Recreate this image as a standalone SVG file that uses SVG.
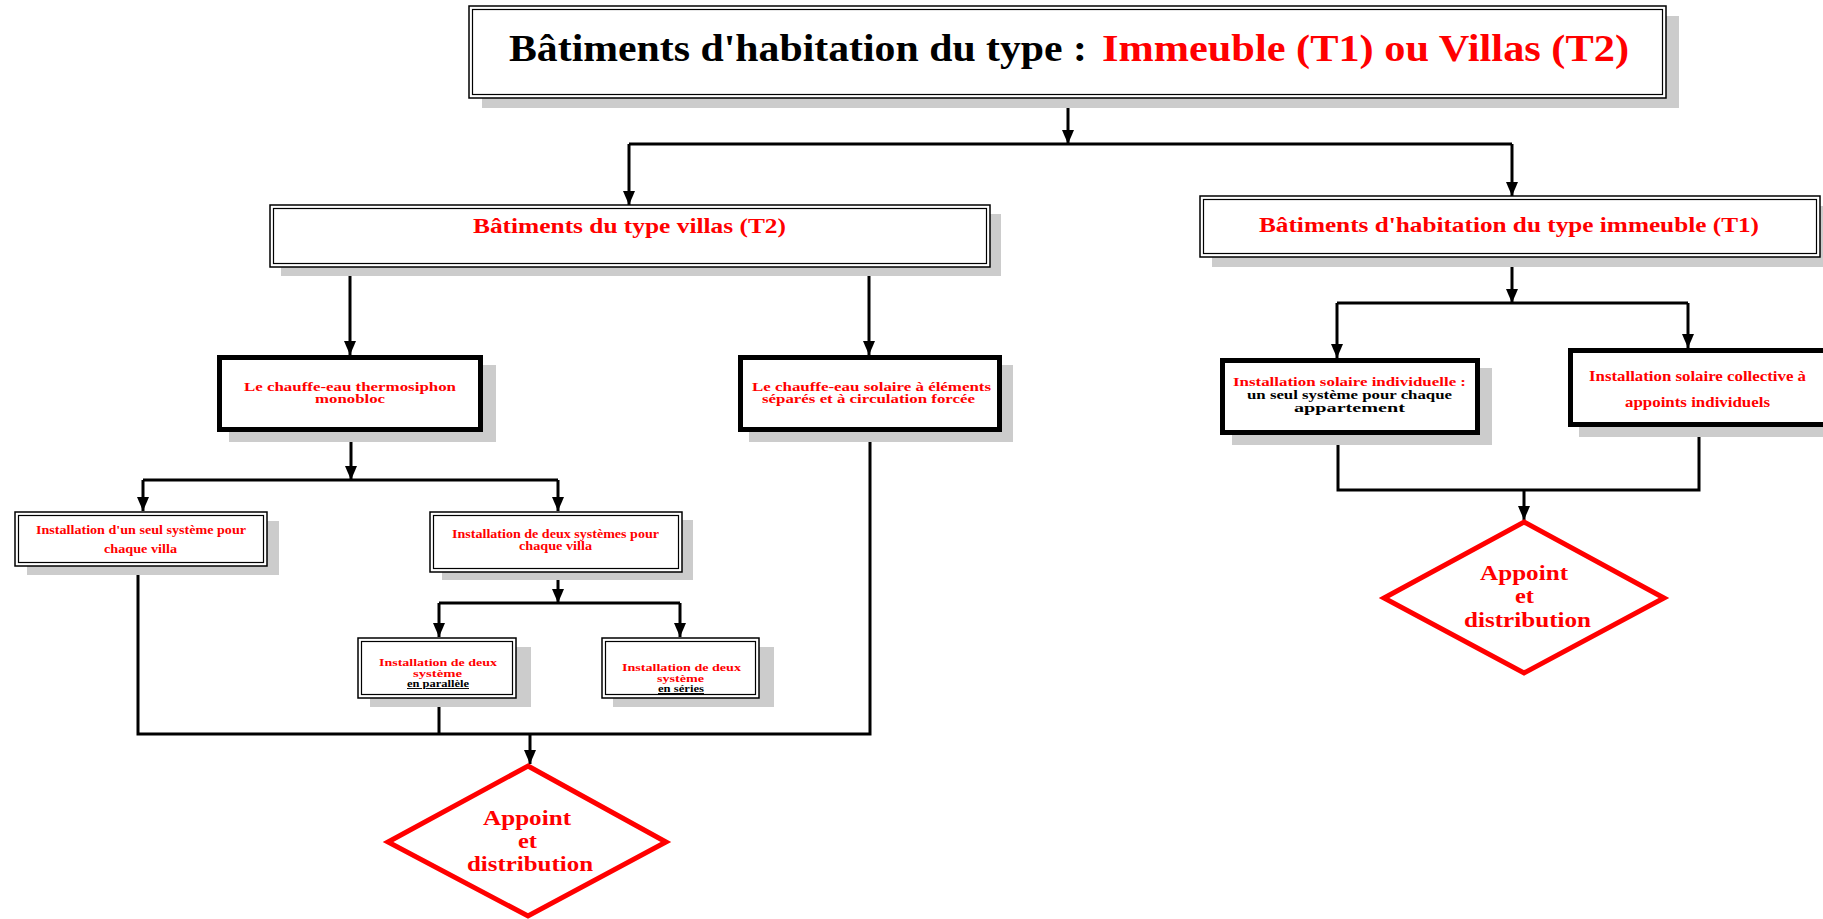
<svg xmlns="http://www.w3.org/2000/svg" width="1823" height="919" viewBox="0 0 1823 919">
<style>
.bg{fill:#ffffff}
.sh{fill:#cccccc}
.dbo{fill:#ffffff;stroke:#000;stroke-width:1.5}
.dbi{fill:none;stroke:#000;stroke-width:1.2}
.thk{fill:#ffffff;stroke:#000;stroke-width:5}
.dia{fill:#ffffff;stroke:#ff0000;stroke-width:5;stroke-linejoin:miter}
.t{font-family:"Liberation Serif","Times New Roman",serif;font-weight:bold}
.r{fill:#ff0000}
.k{fill:#000000}
.c{fill:none;stroke:#000;stroke-width:3}
.ca{fill:none;stroke:#000;stroke-width:3;marker-end:url(#ah)}
</style>
<defs>
<marker id="ah" viewBox="0 0 14 12" markerUnits="userSpaceOnUse" markerWidth="14" markerHeight="12" refX="14" refY="6" orient="auto">
<path d="M0,0 L14,6 L0,12 z" fill="#000"/>
</marker>
</defs>
<rect class="bg" x="0" y="0" width="1823" height="919"/>

<g id="connectors">
<path class="ca" d="M1068,98 V144"/>
<path class="c" d="M629,144 H1512"/>
<path class="ca" d="M629,144 V205"/>
<path class="ca" d="M1512,144 V196"/>
<path class="ca" d="M350,267 V355"/>
<path class="ca" d="M869,267 V355"/>
<path class="ca" d="M351,432 V480"/>
<path class="c" d="M143,480 H558"/>
<path class="ca" d="M143,480 V511"/>
<path class="ca" d="M558,480 V511"/>
<path class="ca" d="M558,572 V603"/>
<path class="c" d="M439,603 H680"/>
<path class="ca" d="M439,603 V637"/>
<path class="ca" d="M680,603 V637"/>
<path class="c" d="M138,566 V734 H870 V432"/>
<path class="c" d="M439,698 V734"/>
<path class="ca" d="M530,734 V764"/>
<path class="ca" d="M1512,257 V303"/>
<path class="c" d="M1337,303 H1688"/>
<path class="ca" d="M1337,303 V358"/>
<path class="ca" d="M1688,303 V348"/>
<path class="c" d="M1338,435 V490 H1699 V427"/>
<path class="ca" d="M1524,490 V520"/>
</g>

<g id="title">
<rect class="sh" x="482" y="16" width="1197" height="92"/>
<rect class="dbo" x="469" y="6" width="1197" height="92"/>
<rect class="dbi" x="472.5" y="9.5" width="1190" height="85"/>
<text class="t k" x="509" y="61" font-size="37" textLength="578" lengthAdjust="spacingAndGlyphs">Bâtiments d'habitation du type :</text>
<text class="t r" x="1102" y="61" font-size="37" textLength="527" lengthAdjust="spacingAndGlyphs">Immeuble (T1) ou Villas (T2)</text>
</g>

<g id="villas">
<rect class="sh" x="281" y="214" width="720" height="62"/>
<rect class="dbo" x="270" y="205" width="720" height="62"/>
<rect class="dbi" x="273.5" y="208.5" width="713" height="55"/>
<text class="t r" x="473" y="233" font-size="22" textLength="313" lengthAdjust="spacingAndGlyphs">Bâtiments du type villas (T2)</text>
</g>

<g id="immeuble">
<rect class="sh" x="1212" y="206" width="620" height="61"/>
<rect class="dbo" x="1200" y="196" width="620" height="61"/>
<rect class="dbi" x="1203.5" y="199.5" width="613" height="54"/>
<text class="t r" x="1259" y="232" font-size="22" textLength="500" lengthAdjust="spacingAndGlyphs">Bâtiments d'habitation du type immeuble (T1)</text>
</g>

<g id="thermosiphon">
<rect class="sh" x="229" y="365" width="267" height="77"/>
<rect class="thk" x="219.5" y="357.5" width="261" height="72"/>
<text class="t r" x="244" y="391" font-size="13" textLength="212" lengthAdjust="spacingAndGlyphs">Le chauffe-eau thermosiphon</text>
<text class="t r" x="315" y="403" font-size="13" textLength="70" lengthAdjust="spacingAndGlyphs">monobloc</text>
</g>

<g id="solaire">
<rect class="sh" x="749" y="365" width="264" height="77"/>
<rect class="thk" x="740.5" y="357.5" width="259" height="72"/>
<text class="t r" x="752" y="391" font-size="13" textLength="239" lengthAdjust="spacingAndGlyphs">Le chauffe-eau solaire à éléments</text>
<text class="t r" x="762" y="403" font-size="13" textLength="213" lengthAdjust="spacingAndGlyphs">séparés et à circulation forcée</text>
</g>

<g id="seul">
<rect class="sh" x="27" y="521" width="252" height="54"/>
<rect class="dbo" x="15" y="512" width="252" height="54"/>
<rect class="dbi" x="18.5" y="515.5" width="245" height="47"/>
<text class="t r" x="36" y="534" font-size="12.5" textLength="210" lengthAdjust="spacingAndGlyphs">Installation d'un seul système pour</text>
<text class="t r" x="104" y="553" font-size="12.5" textLength="73" lengthAdjust="spacingAndGlyphs">chaque villa</text>
</g>

<g id="deux">
<rect class="sh" x="442" y="520" width="251" height="60"/>
<rect class="dbo" x="430" y="512" width="252" height="60"/>
<rect class="dbi" x="433.5" y="515.5" width="245" height="53"/>
<text class="t r" x="452" y="538" font-size="11.5" textLength="207" lengthAdjust="spacingAndGlyphs">Installation de deux systèmes pour</text>
<text class="t r" x="519" y="550" font-size="11.5" textLength="73" lengthAdjust="spacingAndGlyphs">chaque villa</text>
</g>

<g id="parallele">
<rect class="sh" x="370" y="647" width="161" height="60"/>
<rect class="dbo" x="358" y="638" width="158" height="60"/>
<rect class="dbi" x="361.5" y="641.5" width="151" height="53"/>
<text class="t r" x="379" y="666" font-size="11" textLength="118" lengthAdjust="spacingAndGlyphs">Installation de deux</text>
<text class="t r" x="413" y="676.5" font-size="11" textLength="49" lengthAdjust="spacingAndGlyphs">système</text>
<text class="t k" x="407" y="687" font-size="9.5" textLength="62" lengthAdjust="spacingAndGlyphs" text-decoration="underline">en parallèle</text>
</g>

<g id="series">
<rect class="sh" x="613" y="647" width="161" height="60"/>
<rect class="dbo" x="602" y="638" width="157" height="60"/>
<rect class="dbi" x="605.5" y="641.5" width="150" height="53"/>
<text class="t r" x="622" y="671" font-size="11" textLength="119" lengthAdjust="spacingAndGlyphs">Installation de deux</text>
<text class="t r" x="657" y="681.5" font-size="11" textLength="47" lengthAdjust="spacingAndGlyphs">système</text>
<text class="t k" x="658" y="692" font-size="9.5" textLength="46" lengthAdjust="spacingAndGlyphs" text-decoration="underline">en séries</text>
</g>

<g id="appoint1">
<polygon class="dia" points="528,766 666,842 528,916 388,842"/>
<text class="t r" x="483" y="825" font-size="21" textLength="88" lengthAdjust="spacingAndGlyphs">Appoint</text>
<text class="t r" x="518" y="848" font-size="21" textLength="19" lengthAdjust="spacingAndGlyphs">et</text>
<text class="t r" x="467" y="871" font-size="21" textLength="126" lengthAdjust="spacingAndGlyphs">distribution</text>
</g>

<g id="individuelle">
<rect class="sh" x="1232" y="368" width="260" height="77"/>
<rect class="thk" x="1222.5" y="360.5" width="255" height="72"/>
<text class="t r" x="1233" y="386" font-size="13" textLength="233" lengthAdjust="spacingAndGlyphs">Installation solaire individuelle :</text>
<text class="t k" x="1247" y="399" font-size="13" textLength="205" lengthAdjust="spacingAndGlyphs">un seul système pour chaque</text>
<text class="t k" x="1294" y="411.5" font-size="13" textLength="111" lengthAdjust="spacingAndGlyphs">appartement</text>
</g>

<g id="collective">
<rect class="sh" x="1579" y="358" width="260" height="79"/>
<rect class="thk" x="1570.5" y="350.5" width="262" height="74"/>
<text class="t r" x="1589" y="381" font-size="14" textLength="217" lengthAdjust="spacingAndGlyphs">Installation solaire collective à</text>
<text class="t r" x="1625" y="407" font-size="14" textLength="145" lengthAdjust="spacingAndGlyphs">appoints individuels</text>
</g>

<g id="appoint2">
<polygon class="dia" points="1524,522 1664,598 1524,673 1384,598"/>
<text class="t r" x="1480" y="580" font-size="21" textLength="88" lengthAdjust="spacingAndGlyphs">Appoint</text>
<text class="t r" x="1515" y="603" font-size="21" textLength="19" lengthAdjust="spacingAndGlyphs">et</text>
<text class="t r" x="1464" y="627" font-size="21" textLength="127" lengthAdjust="spacingAndGlyphs">distribution</text>
</g>
</svg>
